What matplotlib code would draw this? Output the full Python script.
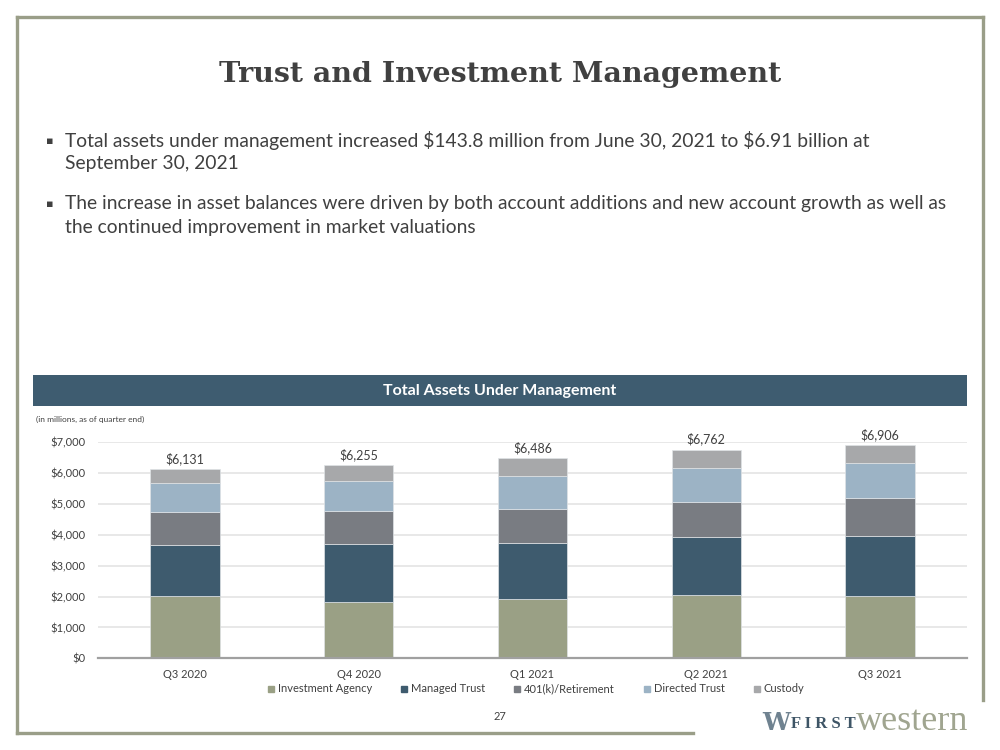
import matplotlib.pyplot as plt
import numpy as np
from matplotlib.patches import Rectangle
from matplotlib.lines import Line2D

quarters = ["Q3 2020", "Q4 2020", "Q1 2021", "Q2 2021", "Q3 2021"]
investment_agency = [2030, 1826, 1923, 2052, 2009]
managed_trust = [1654, 1879, 1825, 1891, 1966]
retirement_401k = [1069, 1070, 1092, 1134, 1221]
directed_trust = [940, 972, 1058, 1080, 1124]
custody = [438, 508, 588, 605, 586]
totals = [6131, 6255, 6486, 6762, 6906]

series_names = ["Investment Agency", "Managed Trust", "401(k)/Retirement", "Directed Trust", "Custody"]
colors = ["#9aa085", "#3e5b6e", "#797c82", "#9cb3c5", "#a7a8aa"]

text_col = "#404040"
plt.rcParams['font.family'] = ['Lato', 'DejaVu Sans']

fig = plt.figure(figsize=(10, 7.5), dpi=100)

# slide frame
frame_col = "#9a9e88"
fig.add_artist(Line2D([0.017, 0.983], [1 - 17/750, 1 - 17/750], color=frame_col, lw=2.4, transform=fig.transFigure))
fig.add_artist(Line2D([0.017, 0.017], [1 - 17/750, 1 - 733/750], color=frame_col, lw=2.4, transform=fig.transFigure))
fig.add_artist(Line2D([0.983, 0.983], [1 - 17/750, 1 - 700/750], color=frame_col, lw=2.4, transform=fig.transFigure))
fig.add_artist(Line2D([0.017, 0.693], [1 - 733/750, 1 - 733/750], color=frame_col, lw=2.4, transform=fig.transFigure))

# title
fig.text(0.5, 1 - 74/750, "Trust and Investment Management", ha="center", va="center",
         fontsize=20.5, fontweight="bold", family=["DejaVu Serif"], color=text_col)

# bullets
bullets = [
    ("Total assets under management increased \\$143.8 million from June 30, 2021 to \\$6.91 billion at", 141),
    ("September 30, 2021", 164),
    ("The increase in asset balances were driven by both account additions and new account growth as well as", 204),
    ("the continued improvement in market valuations", 227),
]
for i, (line, y) in enumerate(bullets):
    fig.text(0.065, 1 - y/750, line, ha="left", va="center", fontsize=13.9, color=text_col)
    if i in (0, 2):
        fig.text(0.050, 1 - y/750, "\u25aa", ha="center", va="center", fontsize=8,
                 color=text_col, family=["DejaVu Sans"])

# banner
fig.add_artist(Rectangle((0.033, 1 - 406/750), 0.934, 31/750, facecolor="#3e5c70",
                         edgecolor="none", transform=fig.transFigure))
fig.text(0.5, 1 - 391/750, "Total Assets Under Management", ha="center", va="center",
         fontsize=11.5, fontweight="bold", color="white")
fig.text(0.036, 1 - 419/750, "(in millions, as of quarter end)", ha="left", va="center",
         fontsize=6, color=text_col)

ax = fig.add_axes([0.098, 1 - 658.3/750, 0.869, (658.3 - 442.3)/750])
x = np.arange(len(quarters))
data = [investment_agency, managed_trust, retirement_401k, directed_trust, custody]
bottom = np.zeros(len(quarters))
for vals, name, c in zip(data, series_names, colors):
    ax.bar(x, vals, 0.40, bottom=bottom, color=c, label=name, edgecolor="#dfe3e6",
           linewidth=0.5, zorder=3)
    bottom += np.array(vals)

for xi, t in zip(x, totals):
    ax.text(xi, t + 130, f"\\${t:,}", ha="center", va="bottom", fontsize=9, color=text_col)

ax.set_xlim(-0.5, 4.5)
ax.set_ylim(0, 7000)
ax.set_yticks(range(0, 7001, 1000))
ax.set_yticklabels([f"\\${v:,}" for v in range(0, 7001, 1000)])
ax.set_xticks(x)
ax.set_xticklabels(quarters)
ax.grid(axis="y", color="#e6e6e6", linewidth=1.3, zorder=0)
for s in ["top", "right", "left"]:
    ax.spines[s].set_visible(False)
ax.spines["bottom"].set_color("#a0a0a0")
ax.spines["bottom"].set_linewidth(1.6)
ax.spines["bottom"].set_zorder(4)
ax.tick_params(axis="both", length=0, labelsize=8, labelcolor=text_col)
ax.tick_params(axis="x", pad=8)
ax.tick_params(axis="y", pad=9)

handles = [Line2D([], [], marker="s", linestyle="none", markersize=4.5, color=c) for c in colors]
fig.legend(handles, series_names, loc="center", bbox_to_anchor=(0.536, 1 - 689/750), ncol=5,
           frameon=False, fontsize=8, handlelength=0.6, handletextpad=0.3, columnspacing=2.6,
           labelcolor=text_col)

fig.text(0.5, 1 - 717/750, "27", ha="center", va="center", fontsize=8, color=text_col)

# logo
fig.text(0.776, 1 - 723/750, "W", ha="center", va="center", fontsize=18, fontweight="bold",
         family=["DejaVu Serif"], color="#6f8290")
fig.text(0.791, 1 - 724/750, "F I R S T", ha="left", va="center", fontsize=12, fontweight="bold",
         family=["Liberation Serif"], color="#3e5566")
fig.text(0.856, 1 - 722/750, "western", ha="left", va="center", fontsize=26,
         family=["Liberation Serif"], color="#a0a590")

fig.savefig("out.png", dpi=100)
